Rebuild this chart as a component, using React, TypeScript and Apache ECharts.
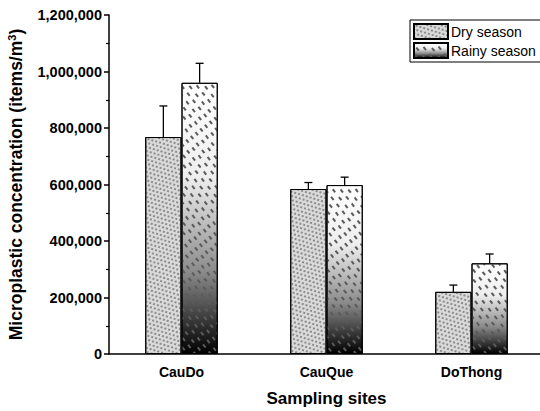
import React, { useEffect, useRef } from "react";
import * as echarts from "echarts";

const categories = ["CauDo", "CauQue", "DoThong"];
const seriesNames = ["Dry season", "Rainy season"];
const dryValues = [768000, 584000, 220000];
const dryErrors = [110000, 23000, 24000];
const rainyValues = [960000, 598000, 321000];
const rainyErrors = [69000, 28000, 33000];
const yTicks = { min: 0, max: 1200000, interval: 200000 };

const FONT = "Arial, 'Liberation Sans', sans-serif";

function errorRender(sign: number) {
  return (params: any, api: any) => {
    const x = api.value(0);
    const v = api.value(1);
    const e = api.value(2);
    const base = api.coord([x, v]);
    const top = api.coord([x, v + e]);
    const band = api.size([1, 0])[0];
    const cx = base[0] + sign * band * 0.125;
    const cap = 4;
    const style = { stroke: "#000", lineWidth: 1.3 };
    return {
      type: "group",
      children: [
        { type: "line", shape: { x1: cx, y1: base[1], x2: cx, y2: top[1] }, style },
        { type: "line", shape: { x1: cx - cap, y1: top[1], x2: cx + cap, y2: top[1] }, style },
      ],
    };
  };
}

export default function App() {
  const ref = useRef<HTMLDivElement>(null);
  useEffect(() => {
    if (!ref.current) return;
    const chart = echarts.init(ref.current, undefined, { renderer: "svg" });
    const dryColor = "#dadada";
    const rainyColor = new echarts.graphic.LinearGradient(0, 0, 0, 1, [
      { offset: 0, color: "#ffffff" },
      { offset: 0.35, color: "#eeeeee" },
      { offset: 0.7, color: "#8a8a8a" },
      { offset: 1, color: "#000000" },
    ]);
    const option: any = {
      animation: false,
      backgroundColor: "#fff",
      legend: {
        data: seriesNames,
        orient: "vertical",
        left: 410,
        top: 20,
        borderColor: "#000",
        borderWidth: 1,
        borderRadius: 0,
        padding: [3, 30, 3, 3],
        itemWidth: 34,
        itemHeight: 15,
        itemGap: 2,
        icon: "rect",
        textStyle: { fontFamily: FONT, fontSize: 14, color: "#000", padding: [0, 0, 0, -2] },
      },
      grid: { left: 109, right: -4, top: 15, bottom: 57, outerBoundsMode: "none", containLabel: false },
      xAxis: [
        {
          type: "category",
          data: categories,
          name: "Sampling sites",
          nameLocation: "middle",
          nameGap: 36,
          nameTextStyle: { fontFamily: FONT, fontSize: 17, fontWeight: "bold", color: "#000" },
          axisLine: { lineStyle: { color: "#000", width: 1.5 } },
          axisTick: { alignWithLabel: true, length: 5, lineStyle: { color: "#000", width: 1.5 } },
          axisLabel: { fontFamily: FONT, fontSize: 14, fontWeight: "bold", color: "#000", margin: 11 },
        },
        {
          type: "category",
          data: categories,
          position: "bottom",
          axisLine: { show: false },
          axisTick: { length: 3, lineStyle: { color: "#000", width: 1.2 } },
          axisLabel: { show: false },
        },
      ],
      yAxis: {
        type: "value",
        min: yTicks.min,
        max: yTicks.max,
        interval: yTicks.interval,
        name: "{a|Microplastic concentration (items/m}{s|3}{a|)}",
        nameLocation: "middle",
        nameGap: 84,
        nameTextStyle: {
          rich: {
            a: { fontFamily: FONT, fontSize: 17.5, fontWeight: "bold", color: "#000" },
            s: { fontFamily: FONT, fontSize: 11, fontWeight: "bold", color: "#000", verticalAlign: "top", padding: [0, 0, 8, 0] },
          },
        },
        axisLine: { show: true, lineStyle: { color: "#000", width: 1.5 } },
        axisTick: { show: true, length: 5, lineStyle: { color: "#000", width: 1.5 } },
        minorTick: { show: true, splitNumber: 2, length: 3, lineStyle: { color: "#000", width: 1.2 } },
        splitLine: { show: false },
        axisLabel: {
          fontFamily: FONT,
          fontSize: 14.5,
          fontWeight: "bold",
          color: "#000",
          margin: 7,
          formatter: (v: number) => v.toLocaleString("en-US"),
        },
      },
      series: [
        {
          name: seriesNames[0],
          type: "bar",
          data: dryValues,
          barGap: "0%",
          barCategoryGap: "50%",
          itemStyle: {
            color: dryColor,
            borderColor: "#000",
            borderWidth: 1,
            decal: {
              symbol: "circle",
              symbolSize: 0.9,
              color: "rgba(90,90,90,0.85)",
              dashArrayX: [[2, 1.5], [0, 1.75, 2, 0]],
              dashArrayY: [2, 1.2],
              rotation: 0.3,
            },
          },
        },
        {
          name: seriesNames[1],
          type: "bar",
          data: rainyValues,
          barGap: "0%",
          barCategoryGap: "50%",
          itemStyle: {
            color: rainyColor,
            borderColor: "#000",
            borderWidth: 1,
            decal: {
              symbol: "rect",
              symbolSize: 1,
              color: "#5a5a5a",
              dashArrayX: [[4, 5], [0, 4.5, 4, 0.5]],
              dashArrayY: [1.5, 4],
              rotation: 0.9,
            },
          },
        },
        {
          name: "dryErr",
          type: "custom",
          renderItem: errorRender(-1),
          data: dryValues.map((v, i) => [i, v, dryErrors[i]]),
          encode: { x: 0, y: 1 },
          z: 3,
          silent: true,
        },
        {
          name: "rainyErr",
          type: "custom",
          renderItem: errorRender(1),
          data: rainyValues.map((v, i) => [i, v, rainyErrors[i]]),
          encode: { x: 0, y: 1 },
          z: 3,
          silent: true,
        },
      ],
    };
    chart.setOption(option);
    return () => chart.dispose();
  }, []);
  return (
    <div
      ref={ref}
      style={{ position: "fixed", left: 0, top: 0, width: 540, height: 411, background: "#fff" }}
    />
  );
}
